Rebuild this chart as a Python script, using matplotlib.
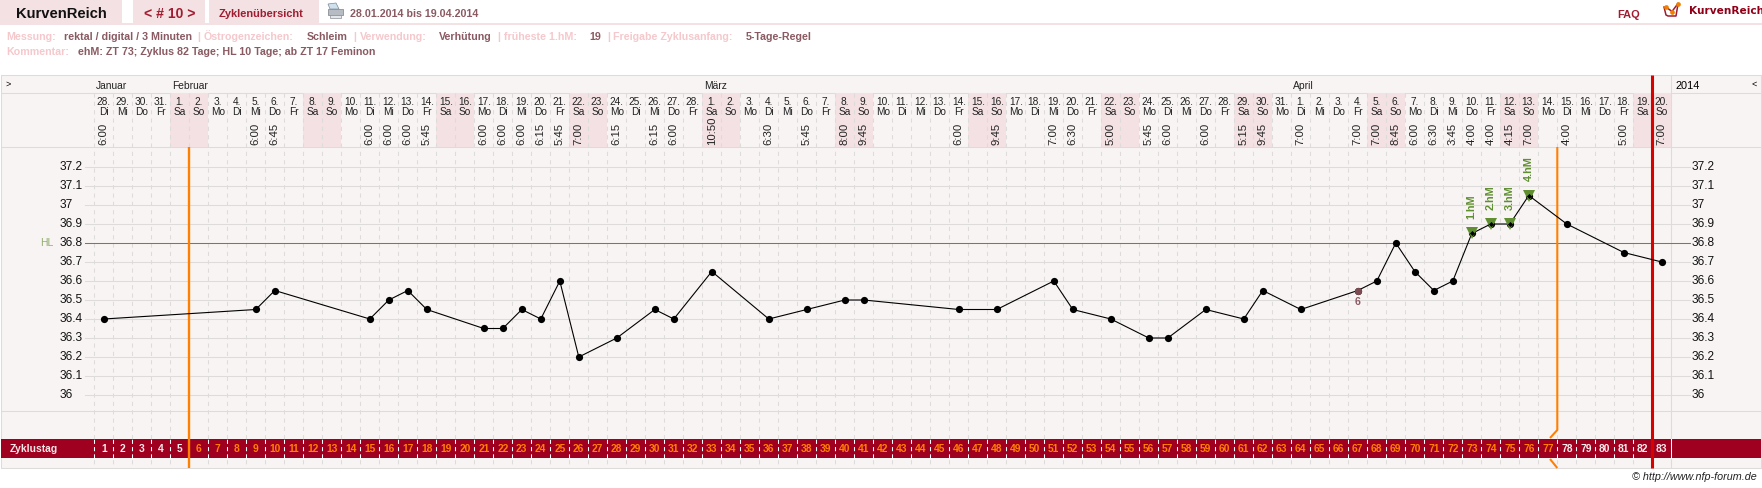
import numpy as np
import pandas as pd
import matplotlib
matplotlib.use("Agg")
import matplotlib.pyplot as plt
from matplotlib.patches import Rectangle, Polygon

plt.rcParams["font.family"] = ["Liberation Sans", "DejaVu Sans"]

# --- Zyklusdaten ---
cycle_start = "2014-01-28"
num_days = 83
weekday_names = ["Mo", "Di", "Mi", "Do", "Fr", "Sa", "So"]

temp_days = [1, 9, 10, 15, 16, 17, 18, 21, 22, 23, 24, 25, 26, 28, 30, 31, 33, 36, 38, 40, 41,
             46, 48, 51, 52, 54, 56, 57, 59, 61, 62, 64, 67, 68, 69, 70, 71, 72, 73, 74, 75,
             76, 78, 81, 83]
temps = [36.4, 36.45, 36.55, 36.4, 36.5, 36.55, 36.45, 36.35, 36.35, 36.45, 36.4, 36.6, 36.2,
         36.3, 36.45, 36.4, 36.65, 36.4, 36.45, 36.5, 36.5, 36.45, 36.45, 36.6, 36.45, 36.4,
         36.3, 36.3, 36.45, 36.4, 36.55, 36.45, 36.55, 36.6, 36.8, 36.65, 36.55, 36.6, 36.85,
         36.9, 36.9, 37.05, 36.9, 36.75, 36.7]
times = ["6:00", "6:00", "6:45", "6:00", "6:00", "6:00", "5:45", "6:00", "6:00", "6:00", "6:15",
         "5:45", "7:00", "6:15", "6:15", "6:00", "10:50", "6:30", "5:45", "8:00", "9:45",
         "6:00", "9:45", "7:00", "6:30", "5:00", "5:45", "6:00", "6:00", "5:15", "9:45", "7:00",
         "7:00", "7:00", "8:45", "6:00", "6:30", "3:45", "4:00", "4:00", "4:15", "7:00", "4:00",
         "5:00", "7:00"]

hm_days = [73, 74, 75, 76]
hm_temps = [36.85, 36.9, 36.9, 37.05]
hm_labels = ["1.hM", "2.hM", "3.hM", "4.hM"]
low_day = 67
low_temp = 36.55
low_label = "6"
hl_temp = 36.8
y_ticks = [36, 36.1, 36.2, 36.3, 36.4, 36.5, 36.6, 36.7, 36.8, 36.9, 37, 37.1, 37.2]
y_tick_labels = ["36", "36.1", "36.2", "36.3", "36.4", "36.5", "36.6", "36.7", "36.8", "36.9",
                 "37", "37.1", "37.2"]
months = ["Januar", "Februar", "März", "April"]
month_days = [1, 5, 33, 64]

PINK = "#f3e1e3"
PANEL = "#f9f4f4"
GRID = "#dedbdb"
DARKRED = "#a00020"
ORANGE = "#ff8000"
RED = "#d90000"
GREEN = "#5f8f30"
LABEL = "#8a5a62"
FAINT = "#f5c8cc"
W, H = 1762, 488
THIN = 0.75  # entspricht etwa einem Pixel

fig = plt.figure(figsize=(W / 100, H / 100), dpi=100, facecolor="white")

# Seitenrahmen in Pixelkoordinaten
page = fig.add_axes([0, 0, 1, 1])
page.set_xlim(0, W)
page.set_ylim(H, 0)
page.axis("off")


def box(x0, y0, x1, y1, color, z=1):
    page.add_patch(Rectangle((x0, y0), x1 - x0, y1 - y0, fc=color, ec="none", zorder=z))


def hline(y, x0, x1, color=GRID, lw=THIN, z=2):
    page.plot([x0, x1], [y, y], color=color, lw=lw, zorder=z, solid_capstyle="butt")


def txt(x, y, s, size, color="black", **kw):
    kw.setdefault("va", "baseline")
    page.text(x, y, s, fontsize=size * 0.72, color=color, **kw)


# Kopfzeile
box(0, 0, 122, 23, PINK)
box(133, 0, 205, 23, PINK)
box(209, 0, 319, 23, PINK)
box(0, 23, W, 25, PINK)
txt(16, 18, "KurvenReich", 14.7, "#111111", fontweight="bold")
txt(170, 18, "< # 10 >", 14, "#a01c30", ha="center", fontweight="bold")
txt(219, 17, "Zyklenübersicht", 11, "#a01c30", fontweight="bold")

# Druckersymbol
page.add_patch(Polygon([(330, 9), (328, 4), (336, 3), (339, 9)], fc="#cfe0ee", ec="#7d8a96", lw=0.5, zorder=3))
page.add_patch(Rectangle((328, 9), 15, 6, fc="#b6bcc2", ec="#7a8088", lw=0.5, zorder=3))
page.add_patch(Rectangle((330, 15), 11, 2.5, fc="#e4e7ea", ec="#8a9098", lw=0.5, zorder=3))

txt(350, 17, "28.01.2014 bis 19.04.2014", 10.6, LABEL, fontweight="bold")
txt(1617, 18, "FAQ", 11, "#a01c30", fontweight="bold")

# Logo
page.plot([1664, 1666, 1668, 1676, 1678], [7, 15, 16, 16, 4], color="#a01c30", lw=1.1, zorder=3)
page.plot([1666, 1672, 1678], [7, 11.5, 3.5], color="#a01c30", lw=1.1, zorder=3)
page.plot([1666, 1672, 1678], [7, 11.5, 3.5], "o", color="#f08000", ms=3.4, mew=0, zorder=4)
txt(1689, 14, "KurvenReich", 10.5, "#8f0018", fontweight="bold", family="DejaVu Sans")

# Infozeilen
row1 = [(6, "Messung:", FAINT), (64, "rektal / digital / 3 Minuten", LABEL), (197, "|", FAINT),
        (204, "Östrogenzeichen:", FAINT), (307, "Schleim", LABEL), (353, "|", FAINT),
        (360, "Verwendung:", FAINT), (439, "Verhütung", LABEL), (497, "|", FAINT),
        (504, "früheste 1.hM:", FAINT), (589, "19", LABEL), (607, "|", FAINT),
        (613, "Freigabe Zyklusanfang:", FAINT), (746, "5-Tage-Regel", LABEL)]
for x, s, c in row1:
    txt(x, 40, s, 10.6, c, fontweight="bold")
txt(6, 55, "Kommentar:", 10.6, FAINT, fontweight="bold")
txt(78, 55, "ehM: ZT 73; Zyklus 82 Tage; HL 10 Tage; ab ZT 17 Feminon", 10.6, LABEL, fontweight="bold")

# Panel und Rasterzeilen
LEFT, RIGHT, OUTER = 94.3, 1671.3, 1761
box(1, 75, OUTER, 468, PANEL, 0)
for y in [75, 93, 147, 411, 468]:
    hline(y, 1, OUTER)
for x in [1, 1671.3, 1761]:
    page.plot([x, x], [75, 468], color=GRID, lw=THIN, zorder=2)
txt(6, 84, ">", 9, va="center")
txt(1752, 84, "<", 9, va="center")
txt(1676, 89, "2014", 11)

# Achsen: x = Zyklustag, y = Temperatur
ax = fig.add_axes([0, 0, 1, 1], facecolor="none")
ax.set_xlim(0.5 - LEFT / 19.0, 0.5 + (W - LEFT) / 19.0)
# 36 liegt bei Pixel 395, 0.1 Grad entspricht 19 Pixeln
ax.set_ylim(36 - (H - 395) / 190.0, 36 + 395 / 190.0)
ax.axis("off")
px = lambda y: 36 + (395 - y) / 190.0  # Pixelzeile nach Temperatur
dx = lambda x: 0.5 + (x - LEFT) / 19.0  # Pixelspalte nach Zyklustag

dates = pd.date_range(cycle_start, periods=num_days)
for i, d in enumerate(dates):
    day = i + 1
    if d.weekday() >= 5:
        ax.add_patch(Rectangle((day - 0.5, px(147)), 1, px(93) - px(147), fc=PINK, ec="none", zorder=1))
    ax.text(day, px(102.5), f"{d.day}.", fontsize=7.3, ha="center", va="center", color="#222222", zorder=5)
    ax.text(day, px(112), weekday_names[d.weekday()], fontsize=7.3, ha="center", va="center", color="#222222", zorder=5)

for b in np.arange(0.5, num_days + 1, 1.0):
    ax.plot([b, b], [px(93), px(468)], color=GRID, lw=THIN, dashes=(4, 4), zorder=2)

for d, t in zip(temp_days, times):
    ax.text(d, px(145), t, fontsize=8.2, rotation=90, ha="center", va="bottom", color="#222222", zorder=5)

for m, d in zip(months, month_days):
    ax.text(d - 0.41, px(89), m, fontsize=7.4, ha="left", va="baseline", color="#222222", zorder=5)

# Temperaturraster
for v, s in zip(y_ticks, y_tick_labels):
    ax.plot([dx(85), dx(1690)], [v, v], color=GRID, lw=THIN, zorder=2)
    ax.text(dx(60), v, s, fontsize=8.6, ha="left", va="center", color="#111111", zorder=5)
    ax.text(dx(1692), v, s, fontsize=8.6, ha="left", va="center", color="#111111", zorder=5)
ax.plot([dx(85), dx(1690)], [hl_temp, hl_temp], color=GREEN, lw=THIN, zorder=3)
ax.text(dx(53), hl_temp, "HL", fontsize=7.5, color="#8fae6e", ha="right", va="center", zorder=5)

# Zyklustag-Leiste
ax.add_patch(Rectangle((dx(1), px(458)), (OUTER - 1) / 19.0, px(439) - px(458),
                       fc=DARKRED, ec="none", zorder=6))
ax.text(dx(10), px(449), "Zyklustag", fontsize=7.4, color="#f5e8e8", fontweight="bold",
        ha="left", va="center", zorder=9)
for day in range(1, num_days + 1):
    c = ORANGE if 6 <= day <= 77 else "#f8ecec"
    ax.text(day, px(449), str(day), fontsize=7.4, color=c, fontweight="bold", ha="center", va="center", zorder=9)
    ax.plot([day - 0.5, day - 0.5], [px(458), px(439)], color="white", lw=THIN, dashes=(4, 3), zorder=7)
ax.plot([num_days + 0.5] * 2, [px(458), px(439)], color="white", lw=THIN, zorder=7)

# Freigabe- und Sperrlinien
ax.plot([5.5, 5.5], [px(147), px(468)], color=ORANGE, lw=1.7, zorder=8, solid_capstyle="butt")
ax.plot([77.5, 77.5, dx(1550)], [px(147), px(430), px(438)], color=ORANGE, lw=1.5, zorder=4, solid_capstyle="butt")
ax.plot([dx(1550), 77.5], [px(459), px(468)], color=ORANGE, lw=1.5, zorder=4, solid_capstyle="butt")
ax.plot([82.5, 82.5], [px(75), px(468)], color=RED, lw=2.2, zorder=8, solid_capstyle="butt")

# Temperaturkurve
ax.plot(temp_days, temps, color="black", lw=0.8, zorder=10)
ax.plot(temp_days, temps, "o", color="black", ms=5.2, mew=0, zorder=11)
ax.plot([low_day], [low_temp], "o", color="#7d4a50", ms=5.2, mew=0, zorder=12)
ax.text(low_day, low_temp - 0.062, low_label, fontsize=7.6, color="#8a5a62", fontweight="bold",
        ha="center", va="center", zorder=12)
ax.plot(hm_days, hm_temps, "v", color=GREEN, ms=8.5, mew=0, zorder=12)
ax.plot(hm_days, hm_temps, "D", color="black", ms=2.6, mew=0, zorder=13)
for d, v, s in zip(hm_days, hm_temps, hm_labels):
    ax.text(d, v + 0.075, s, fontsize=7.8, rotation=90, color=GREEN, fontweight="bold",
            ha="center", va="bottom", zorder=13)

txt(1757, 480, "© http://www.nfp-forum.de", 10.8, "#222222", ha="right", style="italic")

fig.savefig("out.png", dpi=100)
